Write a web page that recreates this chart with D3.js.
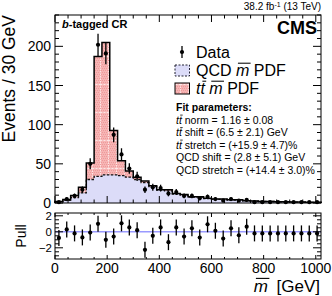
<!DOCTYPE html>
<html>
<head>
<meta charset="utf-8">
<script src="https://d3js.org/d3.v7.min.js"></script>
<style>
  body { margin: 0; background: #fff; }
  svg { font-family: "Liberation Sans", Arial, sans-serif; }
</style>
</head>
<body>
<div class="chart"></div>
<script>
// bins of 30 GeV from 0 to 1020
var binEdges = d3.range(0, 1021, 30);
var dataCounts = [1, 5, 9, 17, 50, 202, 191, 87, 62, 44, 34, 17, 20, 19, 12, 14, 9, 9, 6, 8, 5, 3, 5, 3, 4, 1, 1, 1, 1, 1, 1, 1, 1, 1];
var qcdPdf = [1, 3.5, 7, 13, 30, 34, 36, 36, 35, 33, 30, 26, 21, 16.5, 15.5, 11.5, 10, 7.5, 7.5, 5.6, 4.7, 4.6, 3.7, 3.7, 2.8, 2.3, 1.9, 1.9, 1.4, 1.4, 1.1, 1.1, 0.9, 0.9];
var ttPdf = [0.8, 0.9, 2.6, 7, 21, 153, 169, 56.5, 19, 8, 3, 2, 1, 0.5, 1.5, 0.5, 1, 0.5, 0.5, 0.4, 0.3, 0.4, 0.3, 0.3, 0.2, 0.2, 0.1, 0.1, 0.1, 0.1, 0.1, 0.1, 0.1, 0.1];
var pulls = [-0.77, 0.3, -0.2, -0.7, -0.1, 1.0, -1.0, -0.6, 1.06, 0.55, 0.2, -2.25, -0.5, 0.55, -1.3, 0.55, -0.6, 0.43, -0.72, 0.94, 0.13, -0.85, 0.43, -0.43, 0.64, -0.2, -0.2, -0.2, -0.2, -0.2, -0.2, -0.2, -0.2, -0.2];
var xTicks = [0, 200, 400, 600, 800, 1000];
var yTicks = [0, 50, 100, 150, 200];
var pullTicks = [-2, 0, 2];
var fitLines = [
    ["tt", " norm = 1.16 \u00b1 0.08"],
    ["tt", " shift = (6.5 \u00b1 2.1) GeV"],
    ["tt", " stretch = (+15.9 \u00b1 4.7)%"],
    ["", "QCD shift = (2.8 \u00b1 5.1) GeV"],
    ["", "QCD stretch = (+14.4 \u00b1 3.0)%"]
];

var width = 332, height = 296;
var padL = 55, padR = 321, mainTop = 15, mainBottom = 203;
var pullTop = 213, pullBottom = 259;

var bins = dataCounts.map(function (d, i) {
    return {lo: binEdges[i], hi: binEdges[i + 1], n: d, qcd: qcdPdf[i], tot: qcdPdf[i] + ttPdf[i], pull: pulls[i]};
});

var x = d3.scaleLinear().domain([0, 1020]).range([padL, padR]);
var y = d3.scaleLinear().domain([0, 240]).range([mainBottom, mainTop]);
var yp = d3.scaleLinear().domain([-3.4, 2.35]).range([pullBottom, pullTop]);

var svg = d3.select(".chart").append("svg")
    .attr("width", width)
    .attr("height", height);

// pattern for the ttbar fill
var defs = svg.append("defs");
var pat = defs.append("pattern")
    .attr("id", "ttfill")
    .attr("patternUnits", "userSpaceOnUse")
    .attr("width", 8)
    .attr("height", 28);
pat.append("rect").attr("width", 8).attr("height", 28).attr("fill", "#f6b4b4");
for (var i = 0; i < 8; i += 2) {
    for (var j = 0; j < 28; j += 2) {
        pat.append("rect").attr("x", i + (j % 4 ? 1 : 0)).attr("y", j).attr("width", 1).attr("height", 1).attr("fill", "#ee9a9a");
    }
}
pat.append("line").attr("x1", 4.5).attr("x2", 4.5).attr("y1", 0).attr("y2", 28)
    .attr("stroke", "#fde6e6").attr("stroke-width", 1).attr("stroke-dasharray", "1.5,1");
pat.append("line").attr("x1", 0).attr("x2", 8).attr("y1", 0.5).attr("y2", 0.5)
    .attr("stroke", "#fde6e6").attr("stroke-width", 1).attr("stroke-dasharray", "1.5,1");

function stepPath(key, yScale) {
    var p = "M" + x(bins[0].lo) + "," + yScale(0);
    bins.forEach(function (b) {
        p += "L" + x(b.lo) + "," + yScale(b[key]) + "L" + x(b.hi) + "," + yScale(b[key]);
    });
    return p + "L" + x(bins[bins.length - 1].hi) + "," + yScale(0);
}

// stacked histograms
svg.append("path").attr("d", stepPath("tot", y) + "Z").attr("fill", "url(#ttfill)");
svg.append("path").attr("d", stepPath("qcd", y) + "Z").attr("fill", "#dcdcf8");
svg.append("path").attr("d", stepPath("qcd", y)).attr("fill", "none")
    .attr("stroke", "#111").attr("stroke-width", 1.3).attr("stroke-dasharray", "2.5,1.5");
svg.append("path").attr("d", stepPath("tot", y)).attr("fill", "none")
    .attr("stroke", "#000").attr("stroke-width", 1.5);

// data points
var pts = svg.selectAll(".dot").data(bins).enter().append("g").attr("class", "dot");
pts.append("line")
    .attr("x1", function (d) { return x((d.lo + d.hi) / 2); })
    .attr("x2", function (d) { return x((d.lo + d.hi) / 2); })
    .attr("y1", function (d) { return y(d.n + Math.sqrt(d.n)); })
    .attr("y2", function (d) { return y(Math.max(0, d.n - Math.sqrt(d.n))); })
    .attr("stroke", "#000").attr("stroke-width", 1.3);
pts.append("circle")
    .attr("cx", function (d) { return x((d.lo + d.hi) / 2); })
    .attr("cy", function (d) { return y(d.n); })
    .attr("r", 2.1);

// pull panel
svg.append("line").attr("x1", padL).attr("x2", padR).attr("y1", yp(0)).attr("y2", yp(0))
    .attr("stroke", "#9a9aff").attr("stroke-width", 1.5);
var pp = svg.selectAll(".pull").data(bins).enter().append("g").attr("class", "pull");
pp.append("line")
    .attr("x1", function (d) { return x((d.lo + d.hi) / 2); })
    .attr("x2", function (d) { return x((d.lo + d.hi) / 2); })
    .attr("y1", function (d) { return yp(d.pull + 1); })
    .attr("y2", function (d) { return yp(d.pull - 1); })
    .attr("stroke", "#000").attr("stroke-width", 1.3);
pp.append("circle")
    .attr("cx", function (d) { return x((d.lo + d.hi) / 2); })
    .attr("cy", function (d) { return yp(d.pull); })
    .attr("r", 2.1);

// frames and ticks (ROOT style, ticks inside)
function frame(y0, y1, ys, majors, minors, majLen, minLen) {
    var g = svg.append("g").attr("stroke", "#000").attr("stroke-width", 1);
    g.append("rect").attr("x", padL).attr("y", y0).attr("width", padR - padL).attr("height", y1 - y0)
        .attr("fill", "none");
    d3.range(0, 1001, 50).forEach(function (v) {
        var l = v % 200 === 0 ? majLen : minLen;
        g.append("line").attr("x1", x(v)).attr("x2", x(v)).attr("y1", y1).attr("y2", y1 - l);
        g.append("line").attr("x1", x(v)).attr("x2", x(v)).attr("y1", y0).attr("y2", y0 + l);
    });
    minors.forEach(function (v) {
        var l = majors.indexOf(v) >= 0 ? 8 : 4;
        g.append("line").attr("x1", padL).attr("x2", padL + l).attr("y1", ys(v)).attr("y2", ys(v));
        g.append("line").attr("x1", padR).attr("x2", padR - l).attr("y1", ys(v)).attr("y2", ys(v));
    });
}
frame(mainTop, mainBottom, y, yTicks, d3.range(0, 241, 10), 7, 3.5);
frame(pullTop, pullBottom, yp, pullTicks, d3.range(-3, 2.1, 0.5), 4, 2);

// tick labels
svg.selectAll(".ylab").data(yTicks).enter().append("text")
    .attr("x", 51).attr("y", function (d) { return y(d); })
    .attr("dy", "0.36em").attr("text-anchor", "end").attr("font-size", 14)
    .text(function (d) { return d; });
svg.selectAll(".plab").data(pullTicks).enter().append("text")
    .attr("x", 52).attr("y", function (d) { return yp(d); })
    .attr("dy", "0.36em").attr("text-anchor", "end").attr("font-size", 11.5)
    .text(function (d) { return d < 0 ? "\u2212" + (-d) : d; });
svg.selectAll(".xlab").data(xTicks).enter().append("text")
    .attr("x", function (d) { return x(d); }).attr("y", 273)
    .attr("text-anchor", "middle").attr("font-size", 14)
    .text(function (d) { return d; });

// draws a bar over tspans of class "ovl" (for m-bar and t-bar)
function overlines(textSel, size) {
    textSel.selectAll("tspan.ovl").each(function () {
        var n = this.getNumberOfChars();
        var a = this.getStartPositionOfChar(0), b = this.getEndPositionOfChar(n - 1);
        svg.append("line")
            .attr("x1", a.x + size * 0.12).attr("x2", b.x + size * 0.08)
            .attr("y1", a.y - size * 0.8).attr("y2", a.y - size * 0.8)
            .attr("stroke", "#000").attr("stroke-width", Math.max(0.8, size * 0.065));
    });
}

// axis titles
svg.append("text").attr("transform", "translate(15," + mainTop + ") rotate(-90)")
    .attr("text-anchor", "end").attr("font-size", 17.5).text("Events / 30 GeV");
svg.append("text").attr("transform", "translate(26," + ((pullTop + pullBottom) / 2) + ") rotate(-90)")
    .attr("text-anchor", "middle").attr("font-size", 14).text("Pull");
var xt = svg.append("text").attr("x", 320).attr("y", 292).attr("text-anchor", "end").attr("font-size", 17);
xt.append("tspan").attr("class", "ovl").attr("font-style", "italic").text("m");
xt.append("tspan").text("\u2002[GeV]");
overlines(xt, 17);

// header texts
var lumi = svg.append("text").attr("x", 321).attr("y", 10).attr("text-anchor", "end").attr("font-size", 10);
lumi.append("tspan").text("38.2 fb");
lumi.append("tspan").attr("font-size", 7).attr("dy", -3.5).text("-1");
lumi.append("tspan").attr("dy", 3.5).text(" (13 TeV)");
svg.append("text").attr("x", 317).attr("y", 34).attr("text-anchor", "end")
    .attr("font-size", 18).attr("font-weight", "bold").text("CMS");
var cr = svg.append("text").attr("x", 62).attr("y", 28).attr("font-size", 11).attr("font-weight", "bold");
cr.append("tspan").attr("font-style", "italic").text("b");
cr.append("tspan").text("-tagged CR");

// legend
var lx = 196, bx = 175;
svg.append("line").attr("x1", bx + 7).attr("x2", bx + 7).attr("y1", 46).attr("y2", 58).attr("stroke", "#000").attr("stroke-width", 1.3);
svg.append("circle").attr("cx", bx + 7).attr("cy", 52).attr("r", 2.1);
svg.append("text").attr("x", lx).attr("y", 57.5).attr("font-size", 16).text("Data");
svg.append("rect").attr("x", bx).attr("y", 65).attr("width", 14.5).attr("height", 11)
    .attr("fill", "#dcdcf8").attr("stroke", "#223").attr("stroke-dasharray", "2,1.5");
var l2 = svg.append("text").attr("x", lx).attr("y", 76).attr("font-size", 16);
l2.append("tspan").text("QCD ");
l2.append("tspan").attr("class", "ovl").attr("font-style", "italic").text("m");
l2.append("tspan").text(" PDF");
overlines(l2, 16);
svg.append("rect").attr("x", bx).attr("y", 83).attr("width", 14.5).attr("height", 11)
    .attr("fill", "url(#ttfill)").attr("stroke", "#000");
var l3 = svg.append("text").attr("x", lx).attr("y", 94).attr("font-size", 16);
l3.append("tspan").attr("font-style", "italic").text("t");
l3.append("tspan").attr("class", "ovl").attr("font-style", "italic").text("t");
l3.append("tspan").text(" ");
l3.append("tspan").attr("class", "ovl").attr("font-style", "italic").text("m");
l3.append("tspan").text(" PDF");
overlines(l3, 16);

// fit parameters
var fx = 176;
svg.append("text").attr("x", fx).attr("y", 111).attr("font-size", 10.5).attr("font-weight", "bold")
    .text("Fit parameters:");
fitLines.forEach(function (f, i) {
    var t = svg.append("text").attr("x", fx).attr("y", 123.5 + i * 12.5).attr("font-size", 10.5);
    if (f[0]) {
        t.append("tspan").attr("font-style", "italic").text("t");
        t.append("tspan").attr("class", "ovl").attr("font-style", "italic").text("t");
    }
    t.append("tspan").text(f[1]);
    overlines(t, 10.5);
});
</script>
</body>
</html>
